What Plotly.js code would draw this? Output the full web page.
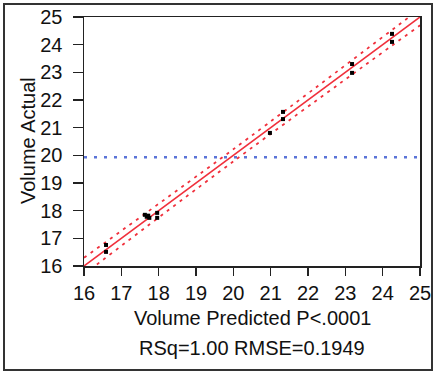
<!DOCTYPE html>
<html><head><meta charset="utf-8">
<script src="https://cdn.plot.ly/plotly-3.0.1.min.js"></script>
<style>body{margin:0;padding:0;background:#fff}#chart{width:437px;height:374px}</style>
</head><body><div id="chart"></div>
<script>
const predicted = [16.59,16.59,17.63,17.68,17.72,17.75,17.96,17.96,20.98,21.33,21.33,23.18,23.18,24.25,24.25];
const actual    = [16.76,16.51,17.85,17.78,17.82,17.74,17.92,17.74,20.81,21.57,21.31,23.30,22.98,24.39,24.10];
const fitX   = [16, 25];
const fitY   = [16, 25];
const bandX  = [16, 20, 25];
const upper  = [16.3, 20.22, 25.3];
const lower  = [15.7, 19.78, 24.7];
const meanY  = 19.93;
const ticks  = [16,17,18,19,20,21,22,23,24,25];
const xTitle = 'Volume Predicted P<.0001';
const statsText = 'RSq=1.00 RMSE=0.1949';
const yTitle = 'Volume Actual';

const font = {family: 'Liberation Sans, Arial, sans-serif', size: 20, color: '#111'};
const red = '#f0303c';
const traces = [
  {x: fitX, y: [meanY, meanY], mode: 'lines', line: {color: '#5b74d8', width: 2.5, dash: '3px,7px'}, hoverinfo: 'skip'},
  {x: bandX, y: upper, mode: 'lines', line: {color: red, width: 1.8, dash: '3px,5px', shape: 'spline'}, hoverinfo: 'skip'},
  {x: bandX, y: lower, mode: 'lines', line: {color: red, width: 1.8, dash: '3px,5px', shape: 'spline'}, hoverinfo: 'skip'},
  {x: fitX, y: fitY, mode: 'lines', line: {color: red, width: 1.6}, hoverinfo: 'skip'},
  {x: predicted, y: actual, mode: 'markers', marker: {symbol: 'square', size: 4, color: '#000'}}
];
const axisBase = {range: [16, 25], tickvals: ticks, ticktext: ticks.map(String), showgrid: false, zeroline: false,
  showline: true, linecolor: '#222', linewidth: 1.5, mirror: true, ticks: 'outside', tickwidth: 1.3,
  tickcolor: '#222', tickfont: font};
const layout = {
  width: 437, height: 374,
  margin: {l: 84, r: 17, t: 17, b: 108},
  paper_bgcolor: '#fff', plot_bgcolor: '#fff', showlegend: false, font: font,
  xaxis: Object.assign({}, axisBase, {ticklen: 8, ticklabelstandoff: 0}),
  yaxis: Object.assign({}, axisBase, {ticklen: 10, ticklabelstandoff: 6}),
  annotations: [
    {text: xTitle, xref: 'paper', yref: 'paper', x: 0.5, y: (266-318)/249, showarrow: false, font: font, xanchor: 'center', yanchor: 'middle'},
    {text: statsText, xref: 'paper', yref: 'paper', x: 0.5, y: (266-348)/249, showarrow: false, font: font, xanchor: 'center', yanchor: 'middle'},
    {text: yTitle, xref: 'paper', yref: 'paper', x: (28-84)/336, y: (266-141)/249, textangle: -90, showarrow: false, font: font, xanchor: 'center', yanchor: 'middle'}
  ],
  shapes: [{type: 'rect', xref: 'paper', yref: 'paper', x0: (4-84)/336, x1: (432-84)/336, y0: (266-370)/249, y1: (266-4)/249,
    line: {color: '#333', width: 2}, layer: 'below'}]
};
Plotly.newPlot('chart', traces, layout, {displayModeBar: false, staticPlot: true});
</script></body></html>
